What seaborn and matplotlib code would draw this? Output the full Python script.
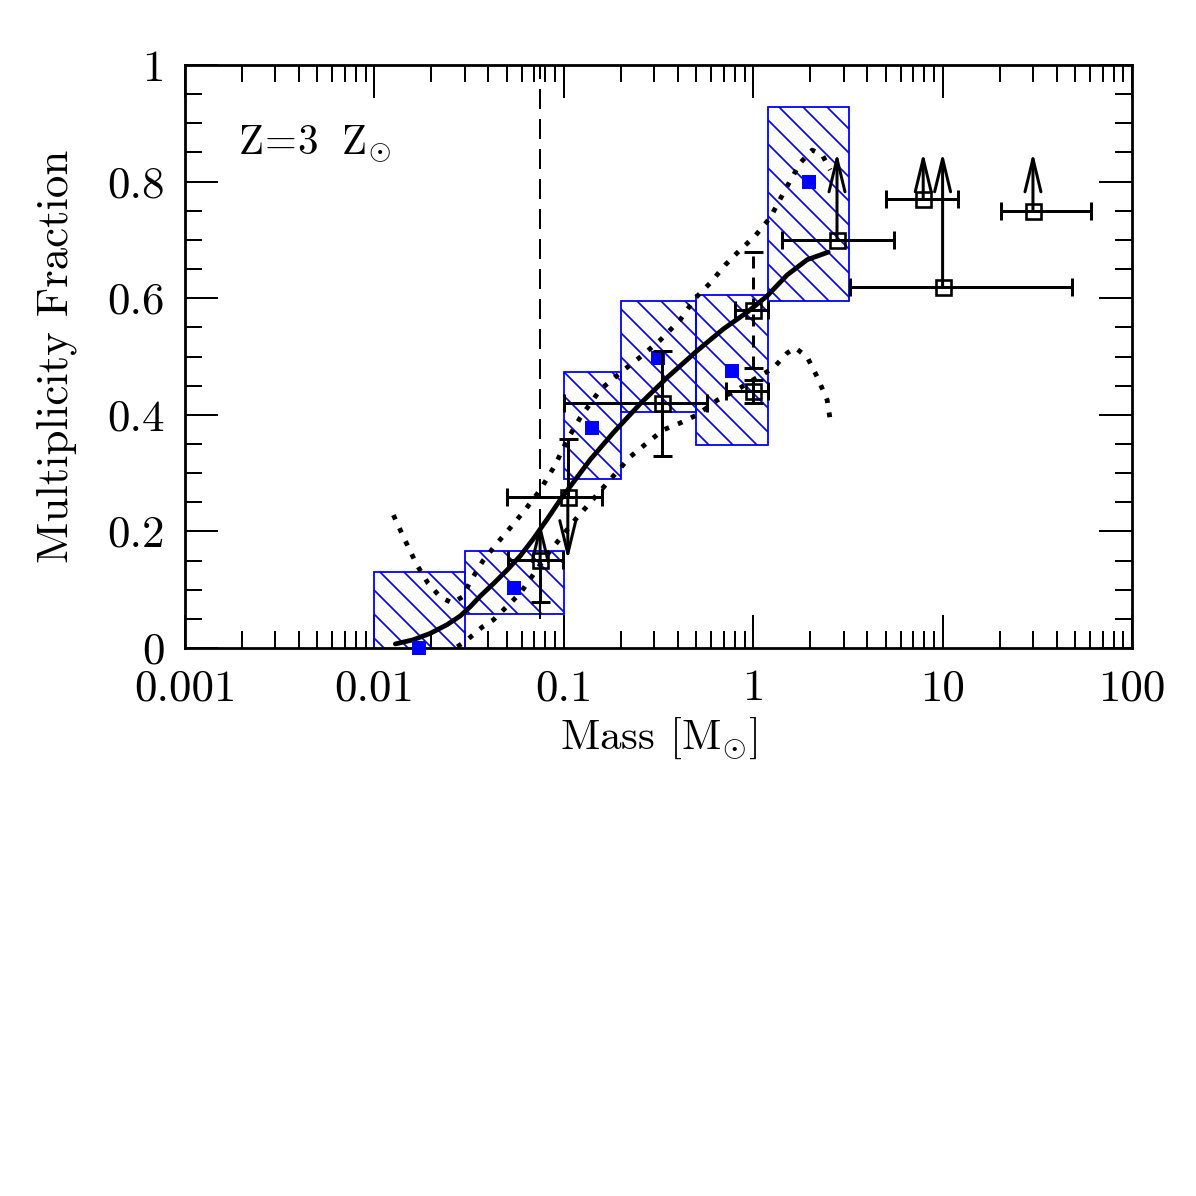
import numpy as np
import matplotlib
matplotlib.use("Agg")
import matplotlib.pyplot as plt
import seaborn as sns
from matplotlib.ticker import FixedLocator, MultipleLocator, LogLocator, NullFormatter

# ---------------- data ----------------
# simulation bins (hatched boxes) and simulation points (blue squares)
bin_lo = [0.01, 0.03, 0.1, 0.2, 0.5, 1.2]
bin_hi = [0.03, 0.1, 0.2, 0.5, 1.2, 3.2]
box_lo = [-0.13, 0.058, 0.290, 0.405, 0.348, 0.595]
box_hi = [0.13, 0.166, 0.473, 0.595, 0.605, 0.928]
sim_mass = [0.0172, 0.0547, 0.141, 0.316, 0.775, 1.98]
sim_frac = [0.0, 0.103, 0.377, 0.497, 0.475, 0.80]

# smoothed fit (solid) and its envelopes (dotted)
curve_mass = [0.0129, 0.0160, 0.0197, 0.0242, 0.0284, 0.0321, 0.0362, 0.0424,
              0.0503, 0.0589, 0.0690, 0.0817, 0.0957, 0.1221, 0.1378, 0.1823,
              0.2532, 0.3515, 0.5062, 0.6944, 0.9297, 1.186, 1.512, 1.928, 2.489]
curve_frac = [0.007, 0.014, 0.025, 0.040, 0.055, 0.071, 0.089, 0.110,
              0.134, 0.158, 0.187, 0.221, 0.254, 0.300, 0.323, 0.369,
              0.419, 0.464, 0.510, 0.547, 0.576, 0.604, 0.640, 0.666, 0.679]

upper_mass = [0.0126, 0.0145, 0.0168, 0.0192, 0.0223, 0.0258, 0.0291, 0.0321,
              0.0375, 0.0445, 0.0521, 0.0625, 0.0750, 0.0901, 0.1042, 0.1221,
              0.1557, 0.1985, 0.2532, 0.3228, 0.4117, 0.4941, 0.5929, 0.7114,
              0.854, 1.025, 1.229, 1.476, 1.771, 2.049, 2.313, 2.55]
upper_frac = [0.228, 0.185, 0.142, 0.111, 0.0875, 0.077, 0.0875, 0.114,
              0.150, 0.180, 0.206, 0.237, 0.271, 0.314, 0.357, 0.395,
              0.443, 0.472, 0.499, 0.528, 0.563, 0.600, 0.626, 0.657,
              0.683, 0.707, 0.738, 0.786, 0.832, 0.854, 0.846, 0.820]

lower_mass = [0.0274, 0.0309, 0.0371, 0.0424, 0.0589, 0.0817, 0.1121, 0.1695,
              0.2242, 0.2756, 0.3347, 0.4117, 0.5062, 0.6454, 0.8233, 1.0,
              1.275, 1.512, 1.666, 1.928, 2.177, 2.459, 2.55]
lower_frac = [0.002, 0.014, 0.036, 0.048, 0.094, 0.160, 0.216, 0.283,
              0.328, 0.352, 0.374, 0.386, 0.400, 0.425, 0.443, 0.460,
              0.480, 0.506, 0.515, 0.499, 0.465, 0.425, 0.391]

# observations (open squares)
obs_mass = [0.075, 0.105, 0.33, 1.0, 1.0, 2.77, 7.9, 10.0, 30.0]
obs_frac = [0.151, 0.259, 0.42, 0.58, 0.44, 0.70, 0.77, 0.62, 0.75]
obs_mlo = [0.051, 0.050, 0.10, 0.80, 0.72, 1.42, 5.04, 3.25, 20.4]
obs_mhi = [0.099, 0.160, 0.57, 1.20, 1.20, 5.55, 12.1, 48.0, 61.0]
# vertical error bars (nan = none)
obs_flo = [0.079, np.nan, 0.329, 0.48, 0.42, np.nan, np.nan, np.nan, np.nan]
obs_fhi = [np.nan, 0.358, 0.509, 0.68, 0.46, np.nan, np.nan, np.nan, np.nan]
obs_dashed = [False, False, False, True, False, False, False, False, False]
# limit arrows
arrow_mass = [0.075, 0.105, 2.77, 7.9, 10.0, 30.0]
arrow_from = [0.151, 0.259, 0.70, 0.77, 0.62, 0.75]
arrow_to = [0.216, 0.151, 0.85, 0.85, 0.85, 0.85]

h_burning_mass = 0.075

x_ticks = [0.001, 0.01, 0.1, 1, 10, 100]
x_ticklabels = ["0.001", "0.01", "0.1", "1", "10", "100"]
y_ticks = [0, 0.2, 0.4, 0.6, 0.8, 1.0]
y_ticklabels = ["0", "0.2", "0.4", "0.6", "0.8", "1"]

# ---------------- style ----------------
sns.set_theme(style="ticks")
plt.rcParams["font.family"] = ["cmr10", "DejaVu Serif"]
plt.rcParams["mathtext.fontset"] = "cm"
plt.rcParams["axes.formatter.use_mathtext"] = True
plt.rcParams["hatch.linewidth"] = 0.85
plt.rcParams["hatch.color"] = "blue"

DPI = 144
fig = plt.figure(figsize=(1196 / DPI, 1196 / DPI), dpi=DPI)
fig.patch.set_facecolor("white")
ax = fig.add_axes([185 / 1196, 1 - 648 / 1196, 947 / 1196, 583 / 1196])
ax.set_facecolor("white")
ax.set_xscale("log")
ax.set_xlim(0.001, 100)
ax.set_ylim(0, 1)

# hatched boxes
ax.bar(bin_lo, np.subtract(box_hi, box_lo), width=np.subtract(bin_hi, bin_lo),
       bottom=box_lo, align="edge", facecolor="none", edgecolor="blue",
       hatch="\\\\", linewidth=0.9, zorder=1)

# hydrogen-burning limit
ax.vlines(h_burning_mass, 0.05, 1.0, colors="black", linewidth=1.0,
          linestyles=(0, (10, 5)), zorder=2)

# curves
dot_style = (0, (1, 2))
sns.lineplot(x=upper_mass, y=upper_frac, sort=False, estimator=None, ax=ax,
             color="black", linewidth=2.4, linestyle=dot_style, zorder=3)
sns.lineplot(x=lower_mass, y=lower_frac, sort=False, estimator=None, ax=ax,
             color="black", linewidth=2.4, linestyle=dot_style, zorder=3)
sns.lineplot(x=curve_mass, y=curve_frac, sort=False, estimator=None, ax=ax,
             color="black", linewidth=2.4, zorder=4)

# simulation points
sns.scatterplot(x=sim_mass, y=sim_frac, ax=ax, marker="s", s=46, color="blue",
                edgecolor="blue", linewidth=0, zorder=5, clip_on=False)

# observations: horizontal error bars
xm = np.array(obs_mass)
ax.errorbar(obs_mass, obs_frac,
            xerr=[xm - np.array(obs_mlo), np.array(obs_mhi) - xm],
            fmt="none", ecolor="black", elinewidth=1.5, capsize=4.5,
            capthick=1.5, zorder=6)
# vertical error bars
for m, f, lo, hi, dashed in zip(obs_mass, obs_frac, obs_flo, obs_fhi, obs_dashed):
    ls = (0, (4, 3)) if dashed else "solid"
    for b in (lo, hi):
        if not np.isnan(b):
            ax.vlines(m, min(f, b), max(f, b), colors="black", linewidth=1.5,
                      linestyles=ls, zorder=6)
            ax.plot([m], [b], marker="_", markersize=9.5, markeredgewidth=1.5,
                    color="black", zorder=6)
# limit arrows
for m, a0, a1 in zip(arrow_mass, arrow_from, arrow_to):
    ax.annotate("", xy=(m, a1), xytext=(m, a0),
                arrowprops=dict(arrowstyle="->,head_length=1.65,head_width=0.4",
                                color="black", lw=1.5, shrinkA=0, shrinkB=0,
                                mutation_scale=10),
                zorder=7)
# open squares
ax.plot(obs_mass, obs_frac, linestyle="none", marker="s", markersize=7.5,
        markerfacecolor="none", markeredgecolor="black", markeredgewidth=1.3,
        zorder=8)

# text
ax.text(0.056, 0.849, r"$\mathrm{Z\!=\!3\ \ Z}_{\odot}$", transform=ax.transAxes,
        fontsize=20.5, ha="left", va="baseline", color="black")

# axes / ticks
for s in ax.spines.values():
    s.set_linewidth(1.4)
    s.set_color("black")
ax.xaxis.set_major_locator(FixedLocator(x_ticks))
ax.set_xticklabels(x_ticklabels)
ax.xaxis.set_minor_locator(LogLocator(base=10, subs=np.arange(2, 10), numticks=20))
ax.xaxis.set_minor_formatter(NullFormatter())
ax.yaxis.set_major_locator(FixedLocator(y_ticks))
ax.set_yticklabels(y_ticklabels)
ax.yaxis.set_minor_locator(MultipleLocator(0.05))
ax.tick_params(which="both", direction="in", top=True, right=True,
               bottom=True, left=True, color="black", labelcolor="black")
ax.tick_params(which="major", length=16.5, width=1.0, labelsize=22.5)
ax.tick_params(axis="x", which="major", pad=10.5)
ax.tick_params(axis="y", which="major", pad=10)
ax.tick_params(which="minor", length=8.5, width=1.0)

ax.set_xlabel(r"Mass [M$_{\odot}$]", fontsize=21.5, color="black")
ax.set_ylabel("Multiplicity Fraction", fontsize=22.5, color="black")
ax.xaxis.set_label_coords(0.5, -0.115)
ax.yaxis.set_label_coords(-0.114, 0.5)

fig.savefig("out.png", dpi=DPI, facecolor="white")
